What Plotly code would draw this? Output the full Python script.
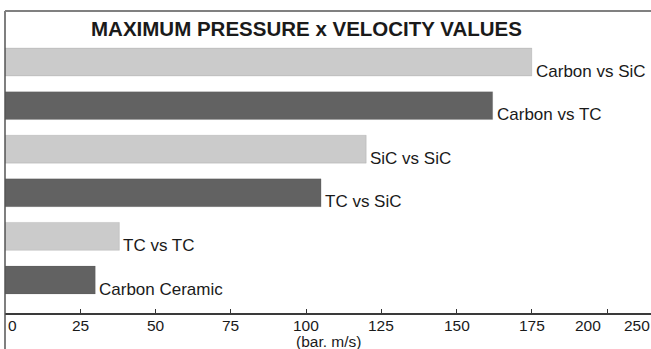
import plotly.graph_objects as go

# Data (top to bottom as shown)
categories = ["Carbon vs SiC", "Carbon vs TC", "SiC vs SiC", "TC vs SiC", "TC vs TC", "Carbon Ceramic"]
values = [175, 162, 120, 105, 38, 30]
bar_colors = ["#cbcbcb", "#626262", "#cbcbcb", "#626262", "#cbcbcb", "#626262"]
tick_values = [0, 25, 50, 75, 100, 125, 150, 175, 200]
tick_labels = ["0", "25", "50", "75", "100", "125", "150", "175", "200", "250"]
title_text = "MAXIMUM PRESSURE x VELOCITY VALUES"
axis_title = "(bar. m/s)"

FONT = "Liberation Sans, Arial, sans-serif"
TXT = "#1a1a1a"
TICK_FONT = dict(family=FONT, size=15.5, color=TXT)

fig = go.Figure()
fig.add_trace(go.Bar(
    x=values, y=list(range(len(categories))), orientation="h",
    marker=dict(color=bar_colors, line=dict(color="rgba(60,60,60,0.25)", width=0.5)),
    width=0.64, hoverinfo="skip", showlegend=False,
))

annotations = []
# bar labels, placed at the end of each bar, near its lower edge
for i, (c, v) in enumerate(zip(categories, values)):
    annotations.append(dict(
        x=v, y=i, xref="x", yref="y", text=c, showarrow=False,
        xanchor="left", yanchor="middle", xshift=2, yshift=-9,
        font=dict(family=FONT, size=17, color=TXT),
    ))

# tick labels
for tv, tl in zip(tick_values[1:8], tick_labels[1:8]):
    annotations.append(dict(
        x=tv, y=0, xref="x", yref="paper", text=tl, showarrow=False,
        xanchor="center", yanchor="top", yshift=-2, font=TICK_FONT,
    ))
annotations.append(dict(x=tick_values[0], y=0, xref="x", yref="paper", text=tick_labels[0],
                        showarrow=False, xanchor="left", yanchor="top", xshift=1, yshift=-2,
                        font=TICK_FONT))
annotations.append(dict(x=tick_values[8], y=0, xref="x", yref="paper", text=tick_labels[8],
                        showarrow=False, xanchor="right", yanchor="top", xshift=-4, yshift=-2,
                        font=TICK_FONT))
annotations.append(dict(x=1, y=0, xref="paper", yref="paper", text=tick_labels[9],
                        showarrow=False, xanchor="right", yanchor="top", xshift=1, yshift=-2,
                        font=TICK_FONT))
# axis title
annotations.append(dict(x=0.5, y=0, xref="paper", yref="paper", text=axis_title,
                        showarrow=False, xanchor="center", yanchor="top", yshift=-18,
                        font=dict(family=FONT, size=15.5, color=TXT)))
# chart title
annotations.append(dict(x=301 / 646, y=1, xref="paper", yref="paper", text="<b>" + title_text + "</b>",
                        showarrow=False, xanchor="center", yanchor="top", yshift=-4,
                        font=dict(family=FONT, size=20.5, color=TXT)))

fig.update_layout(
    width=651, height=349,
    margin=dict(l=5, r=0, t=11, b=36),
    paper_bgcolor="white", plot_bgcolor="white",
    annotations=annotations,
    shapes=[
        dict(type="line", xref="paper", yref="paper", x0=0, x1=0, y0=-0.2, y1=1,
             line=dict(color="#555555", width=1.5)),
        dict(type="line", xref="paper", yref="paper", x0=0, x1=1, y0=1, y1=1,
             line=dict(color="#808080", width=2)),
    ],
    xaxis=dict(range=[0, 214.6], tickvals=tick_values, showticklabels=False,
               ticks="inside", ticklen=4, tickcolor="#333", tickwidth=1,
               showline=True, linecolor="#3a3a3a", linewidth=1.5, mirror=False,
               showgrid=False, zeroline=False, fixedrange=True),
    yaxis=dict(range=[5.757, -1.17], showticklabels=False, showgrid=False,
               zeroline=False, showline=False, ticks="", fixedrange=True),
)

fig.write_html("out.html", config={"displayModeBar": False},
               post_script="document.body.style.margin='0';document.body.style.overflow='hidden';")
